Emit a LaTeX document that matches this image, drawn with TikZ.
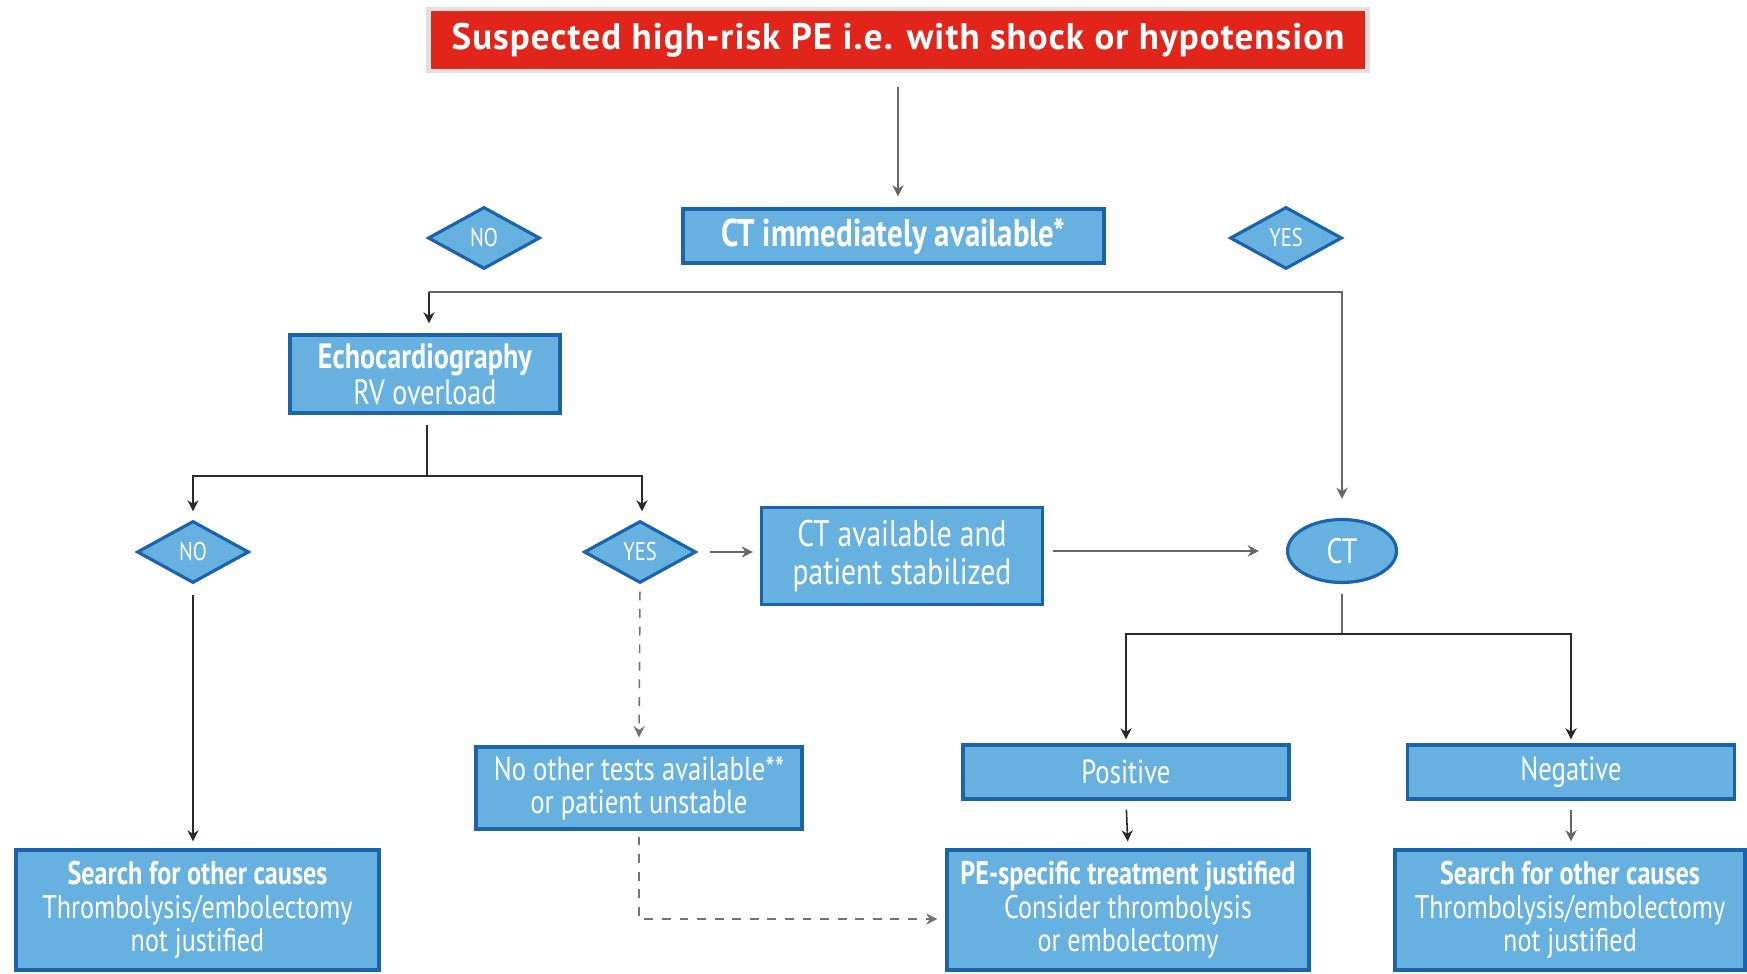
\documentclass[tikz,border=0pt]{standalone}
\usepackage{fontspec}
\setmainfont{PT Sans}[FakeStretch=0.8]
\newfontfamily\titlefont{PT Sans}[LetterSpace=3]
\usepackage{tikz}
\usetikzlibrary{arrows.meta,positioning,calc,shapes.geometric}
\definecolor{boxblue}{HTML}{66B1DF}
\definecolor{edgeblue}{HTML}{1B64AA}
\definecolor{alertred}{HTML}{E1251B}
\definecolor{linegray}{HTML}{2A2A2A}

\begin{document}
\begin{tikzpicture}[
  box/.style={draw=edgeblue, fill=boxblue, line width=0.9pt, text=white, align=center, inner sep=0pt},
  choice/.style={diamond, draw=edgeblue, fill=boxblue, line width=0.9pt, text=white, inner sep=0pt,
    minimum width=1.12cm, minimum height=0.62cm, font=\fontsize{7.3}{8}\selectfont},
  arr/.style={-{Stealth[length=3.2pt,width=3.2pt]}, draw=linegray, line width=0.45pt},
  dasharr/.style={arr, draw=black!55, dash pattern=on 2.5pt off 2.5pt},
]
\useasboundingbox (0,0) rectangle (17.47,9.73);
% Start
\node[draw=black!12, line width=1.2pt, fill=alertred, text=white, minimum width=9.39cm, minimum height=0.62cm,
  font=\titlefont\fontsize{10.5}{12}\selectfont\bfseries] (start) at (8.98,9.33)
  {Suspected high-risk PE i.e. with shock or hypotension};
\node[box, minimum width=4.21cm, minimum height=0.54cm, font=\fontsize{11}{12}\selectfont\bfseries] (ctnow) at (8.935,7.37)
  {CT immediately available*};
\node[choice] (noct) at (4.84,7.35) {NO};
\node[choice] (yesct) at (12.86,7.35) {YES};
% Second level
\node[box, minimum width=2.70cm, minimum height=0.78cm, font=\fontsize{10}{9}\selectfont] (echo) at (4.25,5.99)
  {\textbf{Echocardiography}\\RV overload};
\node[choice] (norv) at (1.93,4.21) {NO};
\node[choice] (yesrv) at (6.40,4.21) {YES};
\node[box, minimum width=2.81cm, minimum height=0.97cm, font=\fontsize{10.5}{10.8}\selectfont] (stable) at (9.02,4.17)
  {CT available and\\patient stabilized};
\node[ellipse, draw=edgeblue, fill=boxblue, line width=0.9pt, text=white, inner sep=0pt,
  minimum width=1.09cm, minimum height=0.63cm, font=\fontsize{10}{12}\selectfont] (ctscan) at (13.42,4.22) {CT};
% Results
\node[box, minimum width=3.26cm, minimum height=0.82cm, font=\fontsize{9.5}{9.4}\selectfont] (notest) at (6.39,1.85)
  {No other tests available**\\or patient unstable};
\node[box, minimum width=3.26cm, minimum height=0.54cm, font=\fontsize{9.5}{10.6}\selectfont] (pos) at (11.26,2.01) {Positive};
\node[box, minimum width=3.27cm, minimum height=0.54cm, font=\fontsize{9.5}{10.6}\selectfont] (neg) at (15.71,2.01) {Negative};
% Outcomes
\node[box, minimum width=3.63cm, minimum height=1.20cm, font=\fontsize{9.3}{9.5}\selectfont] (otherl) at (1.975,0.63)
  {\textbf{Search for other causes}\\Thrombolysis/embolectomy\\not justified};
\node[box, minimum width=3.62cm, minimum height=1.20cm, font=\fontsize{9.3}{9.5}\selectfont] (treat) at (11.28,0.63)
  {\textbf{PE-specific treatment justified}\\Consider thrombolysis\\or embolectomy};
\node[box, minimum width=3.50cm, minimum height=1.20cm, font=\fontsize{9.3}{9.5}\selectfont] (otherr) at (15.70,0.63)
  {\textbf{Search for other causes}\\Thrombolysis/embolectomy\\not justified};
% Connectors
\draw[arr, draw=black!60, shorten <=0.14cm, shorten >=0.11cm] (start.south) -- (start.south |- ctnow.north);
\coordinate (ctsplit) at (4.29,6.81);
\draw[arr, shorten >=0.1cm] (ctsplit) -- (ctsplit |- echo.north);
\draw[arr, draw=black!60, shorten >=0.19cm] (ctsplit) -| (ctscan.north);
\coordinate (echosplit) at (4.27,4.97);
\draw[linegray, line width=0.45pt] ([yshift=-0.1cm]echosplit |- echo.south) -- (echosplit);
\draw[arr, shorten >=0.08cm] (echosplit) -| (norv.north);
\draw[arr, shorten >=0.08cm] (echosplit) -| ([xshift=0.02cm]yesrv.north);
\draw[arr, draw=black!60, shorten <=0.12cm, shorten >=0.07cm] (yesrv.east) -- (stable.west |- yesrv.east);
\draw[arr, draw=black!60, shorten <=0.09cm, shorten >=0.27cm] (stable.east |- ctscan.west) -- (ctscan.west);
\coordinate (ctsplitb) at (13.42,3.39);
\draw[black!60, line width=0.45pt] ([yshift=-0.1cm]ctscan.south) -- (ctsplitb);
\draw[arr, shorten >=0.04cm] (ctsplitb) -| (pos.north);
\draw[arr, shorten >=0.04cm] (ctsplitb) -| (neg.north);
\draw[arr, shorten <=0.09cm, shorten >=0.07cm] (pos.south) -- (treat.north);
\draw[arr, draw=black!60, shorten <=0.09cm, shorten >=0.07cm] (neg.south) -- (neg.south |- otherr.north);
\draw[arr, shorten <=0.1cm, shorten >=0.07cm] (norv.south) -- (norv.south |- otherl.north);
\draw[dasharr, shorten <=0.07cm, shorten >=0.08cm] (yesrv.south) -- (notest.north);
\coordinate (dashturn) at (6.39,0.54);
\draw[dasharr, shorten >=0.08cm] ([yshift=-0.06cm]notest.south) -- (dashturn) -- (dashturn -| treat.west);
\end{tikzpicture}
\end{document}
